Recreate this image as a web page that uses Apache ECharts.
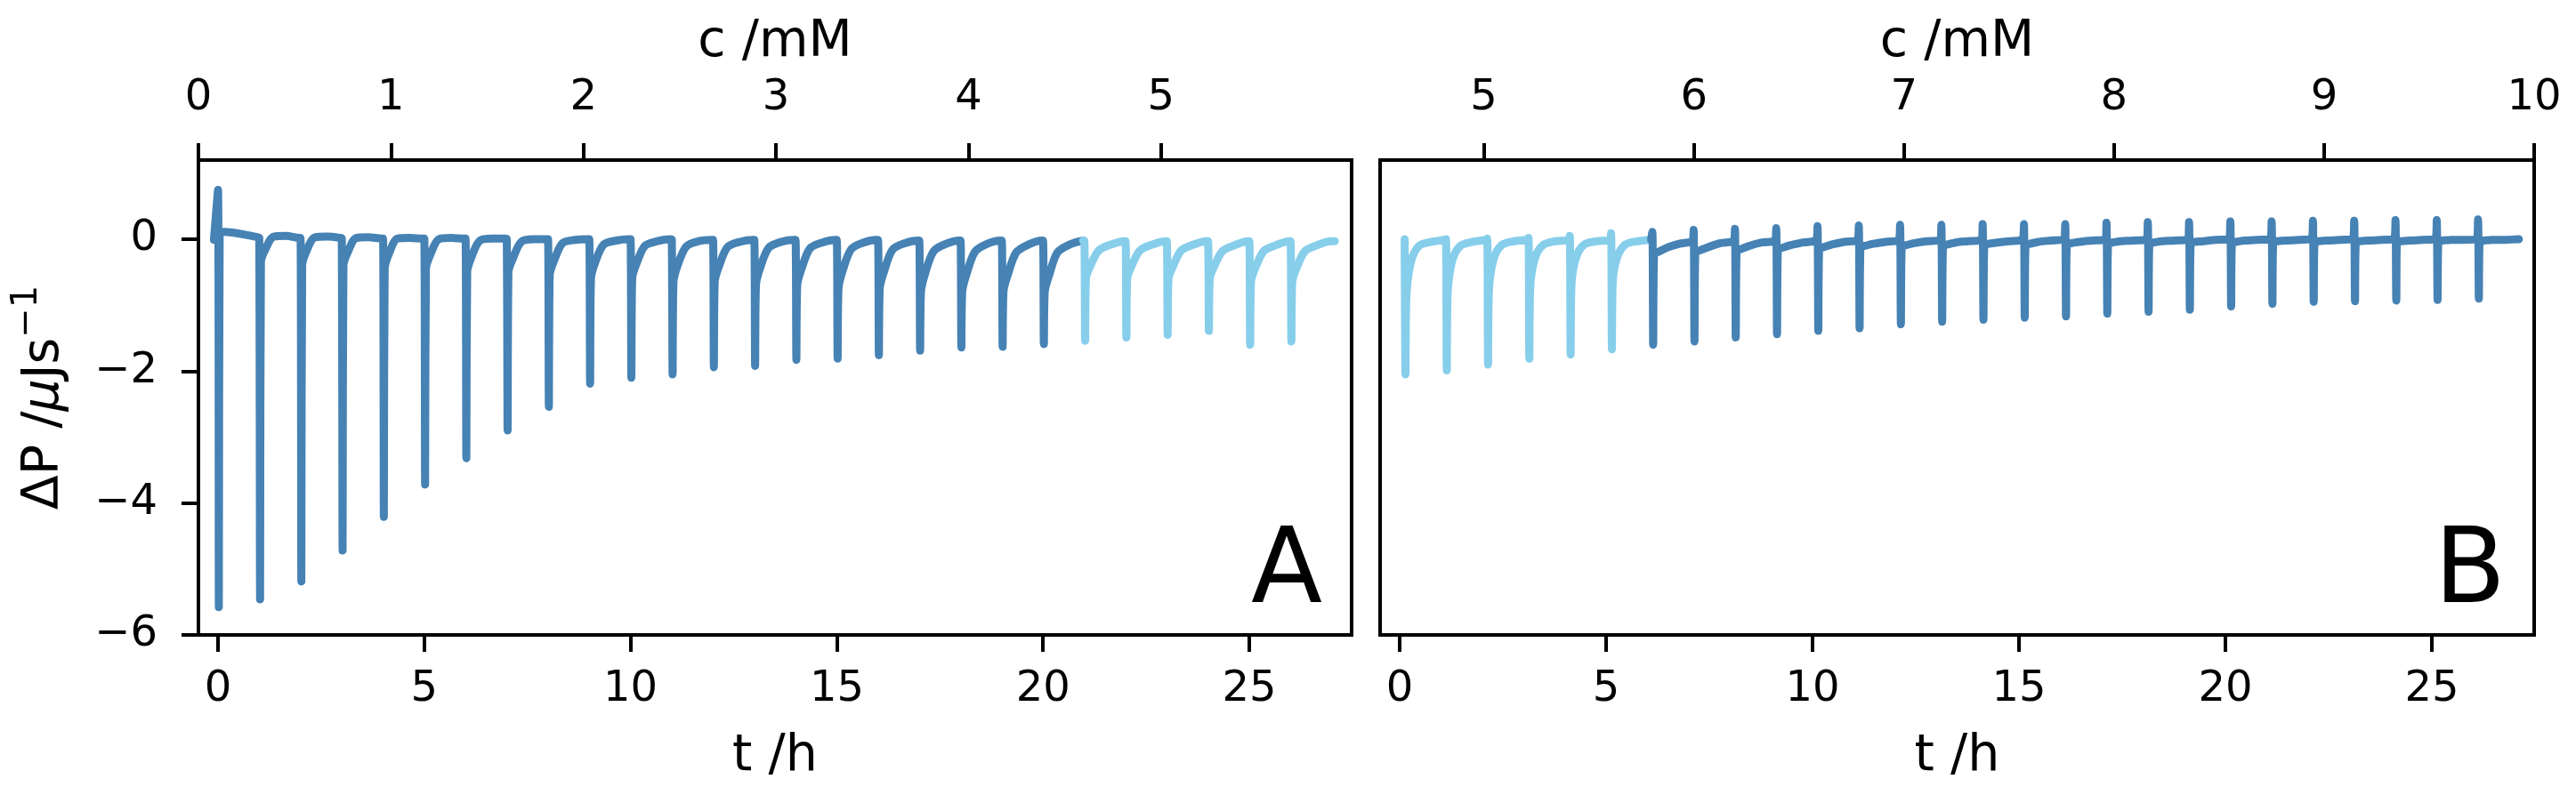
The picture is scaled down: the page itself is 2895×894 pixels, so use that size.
<!DOCTYPE html>
<html>
<head>
<meta charset="utf-8">
<script src="https://cdn.jsdelivr.net/npm/echarts@6/dist/echarts.min.js"></script>
<style>
html, body { margin: 0; padding: 0; background: #fff; }
#main { width: 2895px; height: 894px; }
</style>
</head>
<body>
<div id="main"></div>
<script>
// ---- panel A: injection times (h) and readings per injection (uJ/s) ----
var injA = [0, 1, 2, 3, 4, 5, 6, 7, 8, 9, 10, 11, 12, 13, 14, 15, 16, 17, 18, 19, 20, 21, 22, 23, 24, 25, 26];
var peakA = [0.75, 0.02, 0.02, 0.01, 0.01, 0.01, 0.01, 0, 0, 0, 0, -0.01, -0.01, -0.01, -0.01, -0.01, -0.01, -0.02, -0.02, -0.02, -0.02, -0.02, -0.03, -0.03, -0.03, -0.03, -0.03];
var minA = [-5.58, -5.46, -5.19, -4.72, -4.21, -3.72, -3.32, -2.90, -2.54, -2.19, -2.10, -2.05, -1.94, -1.92, -1.83, -1.81, -1.76, -1.69, -1.64, -1.63, -1.59, -1.54, -1.49, -1.45, -1.39, -1.60, -1.55];
var kneeA = [0.08, -0.35, -0.4, -0.4, -0.45, -0.45, -0.5, -0.5, -0.55, -0.6, -0.6, -0.65, -0.65, -0.7, -0.7, -0.75, -0.75, -0.8, -0.8, -0.8, -0.8, -0.6, -0.6, -0.6, -0.6, -0.65, -0.65];
var rec1A = [0.11, -0.15, -0.17, -0.19, -0.21, -0.23, -0.26, -0.29, -0.32, -0.34, -0.36, -0.38, -0.40, -0.42, -0.44, -0.46, -0.48, -0.50, -0.52, -0.53, -0.54, -0.40, -0.40, -0.41, -0.41, -0.43, -0.43];
var rec2A = [0.10, 0.04, 0.03, 0.02, 0.01, 0.0, -0.02, -0.04, -0.06, -0.08, -0.10, -0.11, -0.12, -0.13, -0.14, -0.15, -0.16, -0.18, -0.19, -0.2, -0.2, -0.17, -0.17, -0.17, -0.18, -0.18, -0.18];
var rec3A = [0.07, 0.05, 0.04, 0.03, 0.02, 0.02, 0.01, 0.0, -0.01, -0.02, -0.03, -0.03, -0.04, -0.04, -0.05, -0.05, -0.06, -0.07, -0.07, -0.08, -0.08, -0.08, -0.08, -0.08, -0.09, -0.09, -0.09];
var rec4A = [0.03, 0.02, 0.02, 0.01, 0.01, 0.01, 0.01, 0.0, 0.0, 0.0, 0.0, -0.01, -0.01, -0.01, -0.01, -0.01, -0.02, -0.02, -0.02, -0.02, -0.02, -0.03, -0.03, -0.03, -0.03, -0.03, -0.03];
var startA = [-0.1, -0.01];
var endA = [27.07, -0.03];
var firstLightA = 21;

// ---- panel B ----
var injB = [0.12, 1.12, 2.12, 3.12, 4.12, 5.12, 6.12, 7.12, 8.12, 9.12, 10.12, 11.12, 12.12, 13.12, 14.12, 15.12, 16.12, 17.12, 18.12, 19.12, 20.12, 21.12, 22.12, 23.12, 24.12, 25.12, 26.12];
var peakB = [0.0, 0.0, 0.01, 0.02, 0.05, 0.09, 0.11, 0.14, 0.16, 0.17, 0.20, 0.21, 0.22, 0.22, 0.23, 0.23, 0.23, 0.25, 0.26, 0.26, 0.27, 0.27, 0.28, 0.28, 0.29, 0.29, 0.30];
var minB = [-2.05, -1.99, -1.90, -1.81, -1.75, -1.67, -1.60, -1.55, -1.49, -1.44, -1.39, -1.35, -1.29, -1.25, -1.22, -1.19, -1.17, -1.13, -1.10, -1.07, -1.02, -0.98, -0.95, -0.94, -0.93, -0.92, -0.90];
var kneeB = [-0.9, -0.85, -0.8, -0.75, -0.7, -0.65, -0.22, -0.2, -0.18, -0.16, -0.14, -0.12, -0.11, -0.1, -0.09, -0.08, -0.07, -0.06, -0.06, -0.05, -0.05, -0.04, -0.04, -0.04, -0.03, -0.03, -0.03];
var rec1B = [-0.35, -0.33, -0.31, -0.3, -0.28, -0.27, -0.19, -0.17, -0.15, -0.13, -0.12, -0.1, -0.09, -0.08, -0.07, -0.07, -0.06, -0.05, -0.05, -0.04, -0.04, -0.03, -0.03, -0.03, -0.03, -0.02, -0.02];
var rec2B = [-0.1, -0.1, -0.09, -0.09, -0.08, -0.08, -0.13, -0.12, -0.1, -0.09, -0.08, -0.07, -0.06, -0.05, -0.05, -0.04, -0.04, -0.03, -0.03, -0.03, -0.02, -0.02, -0.02, -0.02, -0.02, -0.01, -0.01];
var rec3B = [-0.04, -0.04, -0.03, -0.03, -0.03, -0.03, -0.07, -0.06, -0.05, -0.05, -0.04, -0.04, -0.03, -0.03, -0.03, -0.02, -0.02, -0.02, -0.02, -0.01, -0.01, -0.01, -0.01, -0.01, -0.01, -0.01, -0.01];
var rec4B = [-0.01, -0.01, -0.01, -0.01, -0.01, -0.01, -0.02, -0.02, -0.02, -0.01, -0.01, -0.01, -0.01, -0.01, 0, 0, 0, 0, 0, 0, 0, 0, 0, 0, 0, 0, 0];
var endB = [27.11, 0.0];
var firstDarkB = 6;

// sample times after each injection (h)
var offsets = [0, 0.02, 0.04, 0.15, 0.35, 0.65, 0.97];

// axes
var tTicks = [0, 5, 10, 15, 20, 25];
var cTicksA = [0, 1, 2, 3, 4, 5];
var cTicksB = [5, 6, 7, 8, 9, 10];
var yTicks = [-6, -4, -2, 0];

var darkBlue = '#4682b4';
var lightBlue = '#87ceeb';
var font = 'DejaVu Sans';

function segment(i, inj, peak, min, knee, r1, r2, r3, r4) {
    var vals = [peak[i], min[i], knee[i], r1[i], r2[i], r3[i], r4[i]];
    return offsets.map(function (o, k) { return [inj[i] + o, vals[k]]; });
}

function buildRange(from, to, inj, peak, min, knee, r1, r2, r3, r4) {
    var pts = [];
    for (var i = from; i < to; i++) {
        pts = pts.concat(segment(i, inj, peak, min, knee, r1, r2, r3, r4));
    }
    return pts;
}

var darkA = [startA].concat(buildRange(0, firstLightA, injA, peakA, minA, kneeA, rec1A, rec2A, rec3A, rec4A));
var lightA = [darkA[darkA.length - 1]].concat(buildRange(firstLightA, injA.length, injA, peakA, minA, kneeA, rec1A, rec2A, rec3A, rec4A), [endA]);
var lightB = buildRange(0, firstDarkB, injB, peakB, minB, kneeB, rec1B, rec2B, rec3B, rec4B);
var darkB = [lightB[lightB.length - 1]].concat(buildRange(firstDarkB, injB.length, injB, peakB, minB, kneeB, rec1B, rec2B, rec3B, rec4B), [endB]);

function minus(v) {
    return String(v).replace('-', '\u2212');
}

function tickStyle(values) {
    return { show: true, length: 19, customValues: values, lineStyle: { color: '#000', width: 4 } };
}

function tAxis(grid) {
    return {
        type: 'value', gridIndex: grid, position: 'bottom',
        min: -0.475, max: 27.48,
        name: 't /h', nameLocation: 'middle', nameGap: 109,
        nameTextStyle: { fontSize: 57, fontFamily: font, color: '#000' },
        axisLine: { show: false, onZero: false },
        axisTick: tickStyle(tTicks),
        axisLabel: { fontSize: 48, fontFamily: font, color: '#000', margin: 38, customValues: tTicks, formatter: minus },
        splitLine: { show: false }
    };
}

function cAxis(grid, min, max, ticks) {
    return {
        type: 'value', gridIndex: grid, position: 'top',
        min: min, max: max,
        name: 'c /mM', nameLocation: 'middle', nameGap: 103,
        nameTextStyle: { fontSize: 57, fontFamily: font, color: '#000' },
        axisLine: { show: false, onZero: false },
        axisTick: tickStyle(ticks),
        axisLabel: { fontSize: 48, fontFamily: font, color: '#000', margin: 45, customValues: ticks, formatter: minus },
        splitLine: { show: false }
    };
}

function trace(data, xi, yi, color) {
    return {
        type: 'line', xAxisIndex: xi, yAxisIndex: yi, data: data,
        showSymbol: false, symbol: 'none', smooth: 0.3,
        lineStyle: { color: color, width: 9, cap: 'round', join: 'round' },
        itemStyle: { color: color }
    };
}

var chart = echarts.init(document.getElementById('main'), null, { renderer: 'canvas' });
chart.setOption({
    animation: false,
    backgroundColor: '#fff',
    grid: [
        { left: 223, top: 180, width: 1296, height: 534, show: true, borderColor: '#000', borderWidth: 4, backgroundColor: 'transparent', containLabel: false, outerBoundsMode: 'none' },
        { left: 1551, top: 180, width: 1297, height: 534, show: true, borderColor: '#000', borderWidth: 4, backgroundColor: 'transparent', containLabel: false, outerBoundsMode: 'none' }
    ],
    xAxis: [
        tAxis(0),
        cAxis(0, 0, 5.99, cTicksA),
        tAxis(1),
        cAxis(1, 4.506, 10, cTicksB)
    ],
    yAxis: [
        {
            type: 'value', gridIndex: 0, min: -6, max: 1.2,
            name: '{a|\u0394P /}{i|\u03bc}{a|Js}{s|\u22121}',
            nameLocation: 'middle', nameGap: 134, nameRotate: 90,
            nameTextStyle: {
                color: '#000', fontFamily: font,
                rich: {
                    a: { fontSize: 57, lineHeight: 78, fontFamily: font, color: '#000' },
                    i: { fontSize: 57, lineHeight: 78, fontFamily: font, fontStyle: 'italic', color: '#000' },
                    s: { fontSize: 40, lineHeight: 40, fontFamily: font, color: '#000', verticalAlign: 'top' }
                }
            },
            axisLine: { show: false, onZero: false },
            axisTick: tickStyle(yTicks),
            axisLabel: { fontSize: 48, fontFamily: font, color: '#000', margin: 46, customValues: yTicks, formatter: minus },
            splitLine: { show: false }
        },
        {
            type: 'value', gridIndex: 1, min: -6, max: 1.2,
            axisLine: { show: false, onZero: false },
            axisTick: { show: false },
            axisLabel: { show: false },
            splitLine: { show: false }
        }
    ],
    series: [
        trace(darkA, 0, 0, darkBlue),
        trace(lightA, 0, 0, lightBlue),
        trace(lightB, 2, 1, lightBlue),
        trace(darkB, 2, 1, darkBlue)
    ],
    graphic: [
        { type: 'text', x: 1446, y: 647, style: { text: 'A', font: '117px "DejaVu Sans"', fill: '#000', align: 'center', verticalAlign: 'middle' } },
        { type: 'text', x: 2776, y: 647, style: { text: 'B', font: '117px "DejaVu Sans"', fill: '#000', align: 'center', verticalAlign: 'middle' } }
    ]
});
</script>
</body>
</html>
